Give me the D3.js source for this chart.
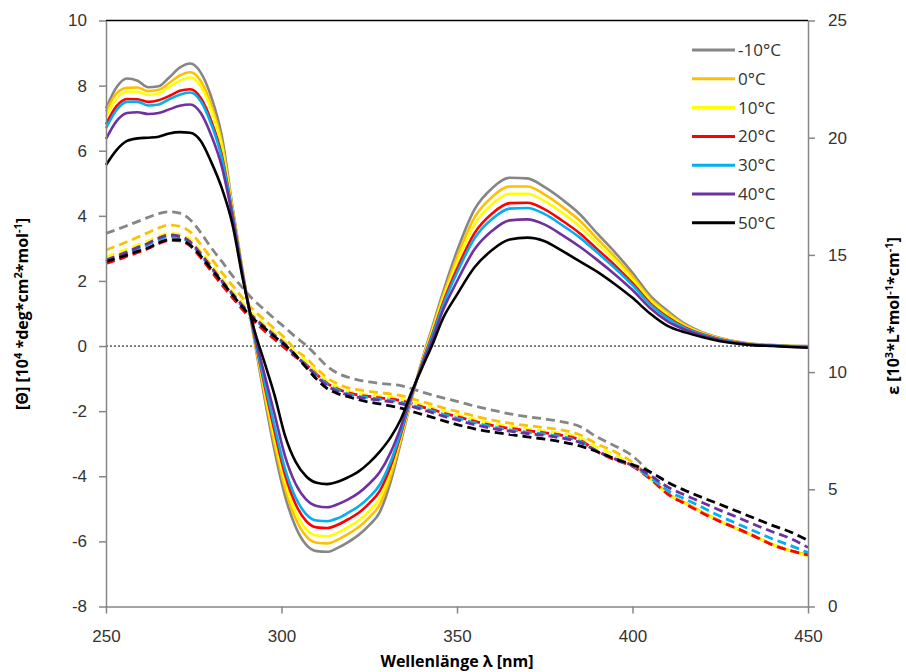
<!DOCTYPE html>
<html>
<head>
<meta charset="utf-8">
<script src="https://cdn.jsdelivr.net/npm/d3@7"></script>
<style>
  body { margin: 0; background: #fff; }
  svg { font-family: "Open Sans", "Liberation Sans", sans-serif; }
  .axis text { font-size: 17px; fill: #333; }
  .axis path, .axis line { stroke: #868686; stroke-width: 1.5; }
  .title { font-size: 16px; font-weight: bold; fill: #000; }
  .legend text { font-size: 17px; fill: #333; }
</style>
</head>
<body>
<div id="chart"></div>
<script>
var width = 906,
    height = 672;

// wavelength grid [nm]
var wavelength = [250,253,256,259,262,265,268,271,274,277,280,283,286,289,292,295,298,301,304,307,310,313,316,319,322,325,328,331,334,337,340,343,346,350,355,360,365,370,375,380,385,390,395,400,405,410,415,420,425,430,435,440,445,450];

var labels = ["-10°C","0°C","10°C","20°C","30°C","40°C","50°C"];
var colors = ["#868686","#FFC000","#FFFF00","#FF0000","#00B0F0","#7030A0","#000000"];

// CD, [Θ] in 10^4 deg cm2 mol-1 (solid lines, left axis)
var thetaM10 = [7.3,7.95,8.22,8.15,7.95,7.98,8.25,8.55,8.68,8.4,7.65,6.45,4.3,2.25,0.35,-1.5,-3.2,-4.6,-5.55,-6.1,-6.3,-6.32,-6.2,-6.02,-5.8,-5.5,-5.1,-4.2,-2.95,-1.65,-0.45,0.6,1.65,2.92,4.2,4.85,5.17,5.15,4.88,4.5,4.05,3.45,2.88,2.25,1.55,1.08,0.68,0.42,0.25,0.13,0.06,0.03,0.01,0];
var theta0 = [7.20,7.76,7.93,7.94,7.83,7.87,8.08,8.31,8.41,8.14,7.40,6.25,4.23,2.23,0.38,-1.37,-2.99,-4.37,-5.30,-5.84,-6.04,-6.06,-5.95,-5.77,-5.56,-5.26,-4.87,-4.03,-2.86,-1.62,-0.48,0.52,1.54,2.73,3.95,4.58,4.90,4.90,4.65,4.28,3.85,3.29,2.74,2.14,1.47,1.02,0.64,0.40,0.24,0.12,0.05,0.03,0.0,-0.01];
var theta10 = [7.04,7.60,7.82,7.81,7.72,7.76,7.96,8.15,8.25,7.98,7.25,6.13,4.19,2.21,0.41,-1.26,-2.81,-4.17,-5.09,-5.62,-5.82,-5.84,-5.73,-5.56,-5.35,-5.06,-4.67,-3.88,-2.79,-1.60,-0.51,0.46,1.44,2.57,3.74,4.36,4.68,4.68,4.45,4.09,3.67,3.15,2.63,2.05,1.41,0.96,0.61,0.38,0.22,0.11,0.05,0.02,0.0,-0.01];
var theta20 = [6.81,7.37,7.59,7.58,7.50,7.55,7.68,7.84,7.89,7.62,6.91,5.86,4.10,2.18,0.44,-1.13,-2.61,-3.95,-4.85,-5.37,-5.57,-5.59,-5.49,-5.32,-5.12,-4.83,-4.45,-3.72,-2.71,-1.57,-0.54,0.37,1.32,2.37,3.47,4.07,4.39,4.40,4.20,3.85,3.46,2.97,2.48,1.93,1.32,0.89,0.57,0.36,0.21,0.11,0.04,0.02,-0.01,-0.02];
var theta30 = [6.69,7.25,7.50,7.50,7.39,7.42,7.58,7.72,7.79,7.52,6.81,5.78,4.07,2.17,0.46,-1.03,-2.44,-3.77,-4.65,-5.16,-5.36,-5.38,-5.29,-5.12,-4.92,-4.64,-4.26,-3.58,-2.64,-1.55,-0.57,0.33,1.25,2.25,3.31,3.90,4.22,4.24,4.05,3.71,3.33,2.87,2.39,1.87,1.28,0.85,0.55,0.35,0.20,0.10,0.04,0.02,-0.01,-0.02];
var theta40 = [6.36,6.91,7.16,7.18,7.13,7.16,7.27,7.38,7.42,7.16,6.47,5.51,3.98,2.13,0.52,-0.81,-2.08,-3.38,-4.23,-4.71,-4.91,-4.95,-4.86,-4.71,-4.51,-4.23,-3.87,-3.29,-2.49,-1.50,-0.61,0.22,1.10,1.99,2.97,3.54,3.86,3.89,3.73,3.41,3.05,2.64,2.20,1.72,1.17,0.76,0.50,0.32,0.18,0.09,0.03,0.01,-0.02,-0.03];
var theta50 = [5.56,6.02,6.30,6.38,6.40,6.43,6.53,6.57,6.55,6.30,5.65,4.85,3.75,2.05,0.60,-0.45,-1.50,-2.75,-3.55,-4.00,-4.20,-4.24,-4.17,-4.03,-3.85,-3.58,-3.24,-2.82,-2.25,-1.43,-0.68,0.05,0.85,1.58,2.42,2.95,3.27,3.33,3.22,2.92,2.60,2.28,1.90,1.48,1.00,0.62,0.42,0.27,0.15,0.07,0.02,0.0,-0.03,-0.05];

// absorption, ε in 10^3 L mol-1 cm-1 (dashed lines, right axis)
var epsM10 = [15.92,16.08,16.25,16.42,16.6,16.76,16.84,16.78,16.5,15.95,15.3,14.72,14.12,13.58,13.08,12.68,12.28,11.9,11.5,11.15,10.7,10.25,9.95,9.78,9.66,9.58,9.52,9.48,9.42,9.3,9.15,9.02,8.9,8.75,8.55,8.38,8.22,8.1,8.0,7.88,7.68,7.22,6.85,6.42,5.7,4.85,4.42,4.0,3.64,3.3,2.97,2.64,2.38,2.2];
var eps0 = [15.21,15.38,15.56,15.75,15.95,16.15,16.27,16.22,15.98,15.45,14.85,14.25,13.7,13.15,12.65,12.25,11.85,11.45,10.95,10.6,10.15,9.75,9.5,9.33,9.24,9.18,9.12,9.07,9.0,8.88,8.74,8.62,8.48,8.32,8.12,7.95,7.82,7.72,7.63,7.52,7.33,6.92,6.6,6.15,5.5,4.83,4.42,4.02,3.64,3.3,2.97,2.64,2.38,2.2];
var eps10 = [14.92,15.08,15.25,15.42,15.6,15.8,15.92,15.88,15.65,15.15,14.58,14.0,13.45,12.92,12.45,12.05,11.68,11.3,10.85,10.48,10.02,9.62,9.36,9.19,9.1,9.04,8.98,8.93,8.86,8.74,8.6,8.48,8.34,8.18,7.98,7.81,7.68,7.58,7.49,7.38,7.2,6.78,6.45,6.02,5.45,4.82,4.4,4.0,3.63,3.3,2.97,2.64,2.38,2.15];
var eps20 = [14.64,14.78,14.94,15.1,15.27,15.48,15.62,15.6,15.38,14.88,14.3,13.72,13.18,12.65,12.18,11.78,11.4,11.02,10.65,10.32,9.9,9.52,9.28,9.12,9.02,8.96,8.9,8.85,8.78,8.66,8.52,8.4,8.26,8.1,7.9,7.73,7.6,7.5,7.41,7.3,7.1,6.6,6.25,5.98,5.45,4.8,4.38,3.98,3.62,3.32,2.98,2.62,2.38,2.2];
var eps30 = [14.71,14.88,15.06,15.25,15.44,15.65,15.78,15.73,15.5,14.98,14.42,13.85,13.3,12.76,12.3,11.9,11.52,11.15,10.72,10.32,9.88,9.48,9.24,9.07,8.97,8.91,8.85,8.8,8.72,8.6,8.46,8.34,8.2,8.04,7.84,7.67,7.54,7.44,7.36,7.24,7.05,6.62,6.28,6.0,5.5,4.95,4.58,4.22,3.85,3.52,3.2,2.88,2.6,2.3];
var eps40 = [14.78,14.95,15.13,15.32,15.5,15.72,15.85,15.8,15.56,15.05,14.48,13.9,13.35,12.82,12.35,11.95,11.58,11.2,10.7,10.28,9.82,9.42,9.17,9.02,8.92,8.86,8.8,8.74,8.66,8.54,8.4,8.27,8.12,7.96,7.76,7.6,7.48,7.38,7.3,7.18,7.0,6.62,6.3,6.02,5.6,5.1,4.75,4.43,4.1,3.8,3.48,3.18,2.9,2.52];
var eps50 = [14.71,14.85,15.0,15.15,15.3,15.52,15.65,15.64,15.42,14.95,14.4,13.85,13.3,12.75,12.28,11.9,11.52,11.15,10.72,10.2,9.7,9.3,9.08,8.95,8.82,8.72,8.64,8.56,8.46,8.33,8.2,8.07,7.93,7.76,7.58,7.45,7.34,7.24,7.14,7.02,6.85,6.6,6.3,6.05,5.75,5.3,4.95,4.64,4.35,4.05,3.75,3.45,3.18,2.82];

var leftTicks = [-8,-6,-4,-2,0,2,4,6,8,10];
var rightTicks = [0,5,10,15,20,25];
var bottomTicks = [250,300,350,400,450];

var thetaSeries = [thetaM10, theta0, theta10, theta20, theta30, theta40, theta50];
var epsSeries = [epsM10, eps0, eps10, eps20, eps30, eps40, eps50];

var x = d3.scaleLinear().domain([250, 450]).range([106, 808]);
var yL = d3.scaleLinear().domain([-8, 10]).range([606.5, 20.5]);
var yR = d3.scaleLinear().domain([0, 25]).range([606.5, 20.5]);

var svg = d3.select("#chart").append("svg")
    .attr("width", width)
    .attr("height", height);

// zero line
svg.append("line")
    .attr("x1", x(250)).attr("x2", x(450))
    .attr("y1", yL(0)).attr("y2", yL(0))
    .attr("stroke", "#000")
    .attr("stroke-width", 1)
    .attr("stroke-dasharray", "2,2");

// top border
svg.append("line")
    .attr("x1", x(250)).attr("x2", x(450))
    .attr("y1", yL(10)).attr("y2", yL(10))
    .attr("stroke", "#000")
    .attr("stroke-width", 1.5);

var lineL = function(vals) {
  return d3.line()
    .x(function(d, i) { return x(wavelength[i]); })
    .y(function(d) { return yL(d); })
    .curve(d3.curveMonotoneX)(vals);
};
var lineR = function(vals) {
  return d3.line()
    .x(function(d, i) { return x(wavelength[i]); })
    .y(function(d) { return yR(d); })
    .curve(d3.curveMonotoneX)(vals);
};

// dashed absorption curves
svg.append("g").selectAll("path")
    .data(epsSeries)
  .enter().append("path")
    .attr("d", lineR)
    .attr("fill", "none")
    .attr("stroke", function(d, i) { return colors[i]; })
    .attr("stroke-width", 2.8)
    .attr("stroke-dasharray", "9,5");

// solid CD curves
svg.append("g").selectAll("path")
    .data(thetaSeries)
  .enter().append("path")
    .attr("d", lineL)
    .attr("fill", "none")
    .attr("stroke", function(d, i) { return colors[i]; })
    .attr("stroke-width", 2.6);

// plain hyphen minus like the original
var plain = function(d) { return String(d); };

// axes
svg.append("g")
    .attr("class", "axis")
    .attr("transform", "translate(" + x(250) + ",0)")
    .call(d3.axisLeft(yL).tickValues(leftTicks).tickFormat(plain).tickSize(7).tickSizeOuter(0).tickPadding(12));

svg.append("g")
    .attr("class", "axis")
    .attr("transform", "translate(" + x(450) + ",0)")
    .call(d3.axisRight(yR).tickValues(rightTicks).tickFormat(plain).tickSize(7).tickSizeOuter(0).tickPadding(13));

svg.append("g")
    .attr("class", "axis")
    .attr("transform", "translate(0," + yL(-8) + ")")
    .call(d3.axisBottom(x).tickValues(bottomTicks).tickFormat(plain).tickSize(7).tickSizeOuter(0).tickPadding(16));

// axis titles
svg.append("text")
    .attr("class", "title")
    .attr("x", 457)
    .attr("y", 667)
    .attr("text-anchor", "middle")
    .text("Wellenlänge λ [nm]");

var tl = svg.append("text")
    .attr("class", "title")
    .attr("transform", "translate(28,314) rotate(-90)")
    .attr("text-anchor", "middle");
tl.append("tspan").text("[Θ] [10");
tl.append("tspan").attr("font-size", "11px").attr("dy", -6).text("4");
tl.append("tspan").attr("dy", 6).text(" *deg*cm");
tl.append("tspan").attr("font-size", "11px").attr("dy", -6).text("2");
tl.append("tspan").attr("dy", 6).text("*mol");
tl.append("tspan").attr("font-size", "11px").attr("dy", -6).text("-1");
tl.append("tspan").attr("dy", 6).text("]");

var tr = svg.append("text")
    .attr("class", "title")
    .attr("transform", "translate(899,316) rotate(-90)")
    .attr("text-anchor", "middle");
tr.append("tspan").text("ε [10");
tr.append("tspan").attr("font-size", "11px").attr("dy", -6).text("3");
tr.append("tspan").attr("dy", 6).text("*L*mol");
tr.append("tspan").attr("font-size", "11px").attr("dy", -6).text("-1");
tr.append("tspan").attr("dy", 6).text("*cm");
tr.append("tspan").attr("font-size", "11px").attr("dy", -6).text("-1");
tr.append("tspan").attr("dy", 6).text("]");

// legend
var legend = svg.append("g").attr("class", "legend")
  .selectAll("g")
    .data(labels)
  .enter().append("g")
    .attr("transform", function(d, i) { return "translate(692," + (50 + i * 28.8) + ")"; });

legend.append("line")
    .attr("x1", 0).attr("x2", 43)
    .attr("stroke", function(d, i) { return colors[i]; })
    .attr("stroke-width", 3);

legend.append("text")
    .attr("x", 46)
    .attr("dy", "0.35em")
    .text(function(d) { return d; });
</script>
</body>
</html>
